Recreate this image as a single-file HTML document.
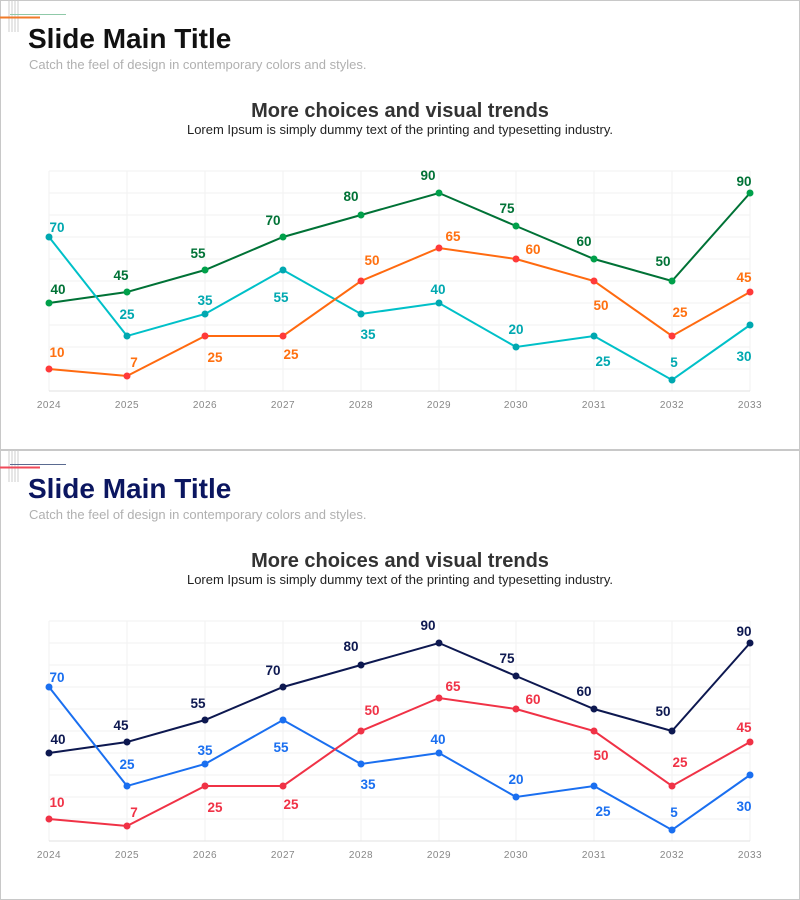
<!DOCTYPE html>
<html><head><meta charset="utf-8"><style>
body{margin:0;width:800px;height:900px;background:#fff;font-family:"Liberation Sans",sans-serif;overflow:hidden}
svg{display:block}
</style></head><body>
<svg width="800" height="900" viewBox="0 0 800 900" font-family="Liberation Sans, sans-serif">
<defs>
<g id="grid">
  <g stroke="#f2f2f2" stroke-width="1">
    <line x1="49" y1="171" x2="750" y2="171"/><line x1="49" y1="193" x2="750" y2="193"/>
    <line x1="49" y1="215" x2="750" y2="215"/><line x1="49" y1="237" x2="750" y2="237"/>
    <line x1="49" y1="259" x2="750" y2="259"/><line x1="49" y1="281" x2="750" y2="281"/>
    <line x1="49" y1="303" x2="750" y2="303"/><line x1="49" y1="325" x2="750" y2="325"/>
    <line x1="49" y1="347" x2="750" y2="347"/><line x1="49" y1="369" x2="750" y2="369"/>
    <line x1="49" y1="171" x2="49" y2="391"/><line x1="127" y1="171" x2="127" y2="391"/>
    <line x1="205" y1="171" x2="205" y2="391"/><line x1="283" y1="171" x2="283" y2="391"/>
    <line x1="361" y1="171" x2="361" y2="391"/><line x1="439" y1="171" x2="439" y2="391"/>
    <line x1="516" y1="171" x2="516" y2="391"/><line x1="594" y1="171" x2="594" y2="391"/>
    <line x1="672" y1="171" x2="672" y2="391"/><line x1="750" y1="171" x2="750" y2="391"/>
  </g>
  <line x1="49" y1="391" x2="750" y2="391" stroke="#e2e2e2"/>
  <g font-size="10" fill="#888" text-anchor="middle" letter-spacing="0.5">
    <text x="49" y="408">2024</text><text x="127" y="408">2025</text><text x="205" y="408">2026</text>
    <text x="283" y="408">2027</text><text x="361" y="408">2028</text><text x="439" y="408">2029</text>
    <text x="516" y="408">2030</text><text x="594" y="408">2031</text><text x="672" y="408">2032</text>
    <text x="750" y="408">2033</text>
  </g>
  <text x="400" y="117" font-size="20" font-weight="bold" fill="#333" text-anchor="middle">More choices and visual trends</text>
  <text x="400" y="134" font-size="13" fill="#222" text-anchor="middle">Lorem Ipsum is simply dummy text of the printing and typesetting industry.</text>
  <text x="29" y="69" font-size="13" fill="#b0b0b0">Catch the feel of design in contemporary colors and styles.</text>
  <g stroke="#cccccc" stroke-width="1"><line x1="9" y1="0" x2="9" y2="32"/><line x1="12" y1="0" x2="12" y2="32"/><line x1="15" y1="0" x2="15" y2="32"/><line x1="18" y1="0" x2="18" y2="32"/></g>
</g>
</defs>

<!-- Slide 1 -->
<rect x="0.5" y="0.5" width="799" height="449" fill="#fff" stroke="#c8c8c8"/>
<use href="#grid"/>
<line x1="10" y1="14.5" x2="66" y2="14.5" stroke="#8fc9a8" stroke-width="1"/>
<line x1="0" y1="17.5" x2="40" y2="17.5" stroke="#f07b2a" stroke-width="2"/>
<text x="28" y="48" font-size="28" font-weight="bold" fill="#111">Slide Main Title</text>
<g fill="none" stroke-width="2">
<polyline stroke="#007236" points="49,303 127,292 205,270 283,237 361,215 439,193 516,226 594,259 672,281 750,193"/>
<polyline stroke="#00c0c8" points="49,237 127,336 205,314 283,270 361,314 439,303 516,347 594,336 672,380 750,325"/>
<polyline stroke="#ff6a10" points="49,369 127,376 205,336 283,336 361,281 439,248 516,259 594,281 672,336 750,292"/>
</g>
<g fill="#00a04a"><circle cx="49" cy="303" r="3.5"/><circle cx="127" cy="292" r="3.5"/><circle cx="205" cy="270" r="3.5"/><circle cx="283" cy="237" r="3.5"/><circle cx="361" cy="215" r="3.5"/><circle cx="439" cy="193" r="3.5"/><circle cx="516" cy="226" r="3.5"/><circle cx="594" cy="259" r="3.5"/><circle cx="672" cy="281" r="3.5"/><circle cx="750" cy="193" r="3.5"/></g>
<g fill="#00a8b0"><circle cx="49" cy="237" r="3.5"/><circle cx="127" cy="336" r="3.5"/><circle cx="205" cy="314" r="3.5"/><circle cx="283" cy="270" r="3.5"/><circle cx="361" cy="314" r="3.5"/><circle cx="439" cy="303" r="3.5"/><circle cx="516" cy="347" r="3.5"/><circle cx="594" cy="336" r="3.5"/><circle cx="672" cy="380" r="3.5"/><circle cx="750" cy="325" r="3.5"/></g>
<g fill="#ff3a3a"><circle cx="49" cy="369" r="3.5"/><circle cx="127" cy="376" r="3.5"/><circle cx="205" cy="336" r="3.5"/><circle cx="283" cy="336" r="3.5"/><circle cx="361" cy="281" r="3.5"/><circle cx="439" cy="248" r="3.5"/><circle cx="516" cy="259" r="3.5"/><circle cx="594" cy="281" r="3.5"/><circle cx="672" cy="336" r="3.5"/><circle cx="750" cy="292" r="3.5"/></g>
<g font-size="13.5" font-weight="bold" text-anchor="middle">
<g fill="#007236"><text x="58" y="294">40</text><text x="121" y="280">45</text><text x="198" y="258">55</text><text x="273" y="225">70</text><text x="351" y="201">80</text><text x="428" y="180">90</text><text x="507" y="213">75</text><text x="584" y="246">60</text><text x="663" y="266">50</text><text x="744" y="186">90</text></g>
<g fill="#00a8b0"><text x="57" y="232">70</text><text x="127" y="319">25</text><text x="205" y="305">35</text><text x="281" y="302">55</text><text x="368" y="339">35</text><text x="438" y="294">40</text><text x="516" y="334">20</text><text x="603" y="366">25</text><text x="674" y="367">5</text><text x="744" y="361">30</text></g>
<g fill="#ff7010"><text x="57" y="357">10</text><text x="134" y="367">7</text><text x="215" y="362">25</text><text x="291" y="359">25</text><text x="372" y="265">50</text><text x="453" y="241">65</text><text x="533" y="254">60</text><text x="601" y="310">50</text><text x="680" y="317">25</text><text x="744" y="282">45</text></g>
</g>

<!-- Slide 2 -->
<g transform="translate(0,450)">
<rect x="0.5" y="0.5" width="799" height="449" fill="#fff" stroke="#c8c8c8"/>
<use href="#grid"/>
<line x1="10" y1="14.5" x2="66" y2="14.5" stroke="#5a6a90" stroke-width="1"/>
<line x1="0" y1="17.5" x2="40" y2="17.5" stroke="#f04a5a" stroke-width="2"/>
<text x="28" y="48" font-size="28" font-weight="bold" fill="#0b1660">Slide Main Title</text>
<g fill="none" stroke-width="2">
<polyline stroke="#0d1850" points="49,303 127,292 205,270 283,237 361,215 439,193 516,226 594,259 672,281 750,193"/>
<polyline stroke="#1a6ff0" points="49,237 127,336 205,314 283,270 361,314 439,303 516,347 594,336 672,380 750,325"/>
<polyline stroke="#f03246" points="49,369 127,376 205,336 283,336 361,281 439,248 516,259 594,281 672,336 750,292"/>
</g>
<g fill="#0d1850"><circle cx="49" cy="303" r="3.5"/><circle cx="127" cy="292" r="3.5"/><circle cx="205" cy="270" r="3.5"/><circle cx="283" cy="237" r="3.5"/><circle cx="361" cy="215" r="3.5"/><circle cx="439" cy="193" r="3.5"/><circle cx="516" cy="226" r="3.5"/><circle cx="594" cy="259" r="3.5"/><circle cx="672" cy="281" r="3.5"/><circle cx="750" cy="193" r="3.5"/></g>
<g fill="#1a6ff0"><circle cx="49" cy="237" r="3.5"/><circle cx="127" cy="336" r="3.5"/><circle cx="205" cy="314" r="3.5"/><circle cx="283" cy="270" r="3.5"/><circle cx="361" cy="314" r="3.5"/><circle cx="439" cy="303" r="3.5"/><circle cx="516" cy="347" r="3.5"/><circle cx="594" cy="336" r="3.5"/><circle cx="672" cy="380" r="3.5"/><circle cx="750" cy="325" r="3.5"/></g>
<g fill="#f03246"><circle cx="49" cy="369" r="3.5"/><circle cx="127" cy="376" r="3.5"/><circle cx="205" cy="336" r="3.5"/><circle cx="283" cy="336" r="3.5"/><circle cx="361" cy="281" r="3.5"/><circle cx="439" cy="248" r="3.5"/><circle cx="516" cy="259" r="3.5"/><circle cx="594" cy="281" r="3.5"/><circle cx="672" cy="336" r="3.5"/><circle cx="750" cy="292" r="3.5"/></g>
<g font-size="13.5" font-weight="bold" text-anchor="middle">
<g fill="#0d1850"><text x="58" y="294">40</text><text x="121" y="280">45</text><text x="198" y="258">55</text><text x="273" y="225">70</text><text x="351" y="201">80</text><text x="428" y="180">90</text><text x="507" y="213">75</text><text x="584" y="246">60</text><text x="663" y="266">50</text><text x="744" y="186">90</text></g>
<g fill="#1a6ff0"><text x="57" y="232">70</text><text x="127" y="319">25</text><text x="205" y="305">35</text><text x="281" y="302">55</text><text x="368" y="339">35</text><text x="438" y="294">40</text><text x="516" y="334">20</text><text x="603" y="366">25</text><text x="674" y="367">5</text><text x="744" y="361">30</text></g>
<g fill="#f03246"><text x="57" y="357">10</text><text x="134" y="367">7</text><text x="215" y="362">25</text><text x="291" y="359">25</text><text x="372" y="265">50</text><text x="453" y="241">65</text><text x="533" y="254">60</text><text x="601" y="310">50</text><text x="680" y="317">25</text><text x="744" y="282">45</text></g>
</g>
</g>
</svg>
</body></html>
